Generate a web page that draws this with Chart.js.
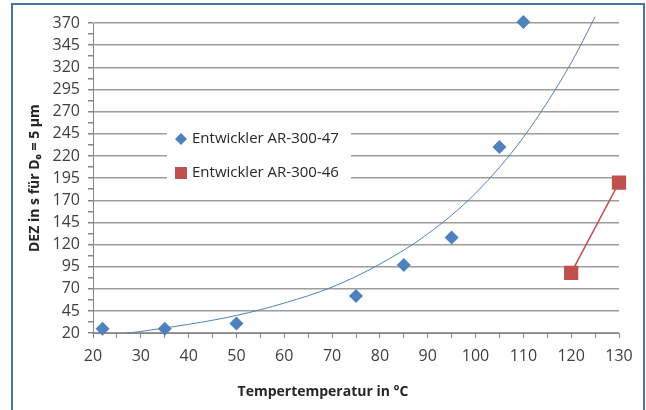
<!DOCTYPE html>
<html>
<head>
<meta charset="utf-8">
<script src="https://cdn.jsdelivr.net/npm/chart.js@4"></script>
<style>
  body { margin: 0; background: #fff; }
  #wrap { position: relative; width: 646px; height: 410px; overflow: hidden; }
  #frame { position: absolute; left: 11px; top: 3px; width: 630px; height: 430px; border: 2px solid #4a72a6; }
  canvas { position: absolute; left: 0; top: 0; }
</style>
</head>
<body>
<div id="wrap">
  <div id="frame"></div>
  <canvas id="chart" width="646" height="410"></canvas>
</div>
<script>
const tempA = [22, 35, 50, 75, 85, 95, 105, 110];
const dezA = [25, 25, 31, 62, 97, 128, 230, 371];
const tempB = [120, 130];
const dezB = [88, 190];
const trendTemp = [27, 30, 40, 50, 60, 70, 80, 90, 100, 110, 120, 125];
const trendDez = [20, 22, 30, 40, 54, 72, 98, 132, 178, 241, 325, 377];

const labelA = "Entwickler AR-300-47";
const labelB = "Entwickler AR-300-46";
const blue = "#4f81bd";
const red = "#c0504d";
const font = "'Open Sans', 'Noto Sans', sans-serif";

const toPoints = (xs, ys) => xs.map((x, i) => ({ x: x, y: ys[i] }));

// Legende innerhalb der Zeichenfläche
const innerLegend = {
  id: "innerLegend",
  afterDraw(chart) {
    const ctx = chart.ctx;
    ctx.save();
    ctx.fillStyle = "#fff";
    ctx.fillRect(167, 122, 184, 66);
    ctx.font = "15px " + font;
    ctx.textBaseline = "middle";
    // Raute
    ctx.fillStyle = blue;
    ctx.beginPath();
    ctx.moveTo(181, 133); ctx.lineTo(187, 139); ctx.lineTo(181, 145); ctx.lineTo(175, 139);
    ctx.closePath();
    ctx.fill();
    // Quadrat
    ctx.fillStyle = red;
    ctx.fillRect(175, 167, 12, 12);
    ctx.fillStyle = "#262626";
    ctx.fillText(labelA, 192, 139);
    ctx.fillText(labelB, 192, 173);
    ctx.restore();
  }
};

new Chart(document.getElementById("chart"), {
  type: "scatter",
  data: {
    datasets: [
      {
        label: "Trend",
        data: toPoints(trendTemp, trendDez),
        showLine: true,
        borderColor: blue,
        borderWidth: 1,
        pointRadius: 0,
        cubicInterpolationMode: "monotone",
        clip: false
      },
      {
        label: labelA,
        data: toPoints(tempA, dezA),
        pointStyle: "rectRot",
        pointRadius: 7,
        backgroundColor: blue,
        borderColor: blue,
        borderWidth: 0,
        clip: false
      },
      {
        label: labelB,
        data: toPoints(tempB, dezB),
        showLine: true,
        pointStyle: "rect",
        pointRadius: 9,
        backgroundColor: red,
        borderColor: red,
        borderWidth: 1.5,
        clip: false
      }
    ]
  },
  options: {
    responsive: false,
    devicePixelRatio: 1,
    animation: false,
    layout: { padding: { top: 23, right: 0, bottom: 0, left: 0 } },
    plugins: {
      legend: { display: false },
      tooltip: { enabled: false },
      title: {
        display: true,
        position: "bottom",
        text: "Tempertemperatur in °C",
        color: "#262626",
        font: { family: font, size: 14, weight: "bold" },
        padding: { top: 0, bottom: 10 }
      }
    },
    scales: {
      x: {
        type: "linear",
        min: 20,
        max: 130,
        afterFit: (s) => { s.height = 50; },
        ticks: {
          stepSize: 5,
          autoSkip: false,
          maxRotation: 0,
          padding: 9,
          color: "#3f3f3f",
          font: { family: font, size: 16 },
          callback: (v) => (v % 10 === 0 ? v : "")
        },
        grid: { drawOnChartArea: false, tickLength: 5, color: "#868686" },
        border: { color: "#868686" }
      },
      y: {
        type: "linear",
        min: 20,
        max: 370,
        afterFit: (s) => { s.width = 93; },
        ticks: {
          stepSize: 12.5,
          autoSkip: false,
          padding: 8,
          color: "#3f3f3f",
          font: { family: font, size: 16 },
          callback: (v) => ((v - 20) % 25 === 0 ? v : "")
        },
        grid: {
          tickLength: 5,
          tickColor: "#868686",
          color: (c) => (c.tick && (c.tick.value - 20) % 25 === 0 ? "#9c9c9c" : "rgba(0,0,0,0)"),
          lineWidth: 1.5
        },
        border: { color: "#868686" },
        title: {
          display: true,
          text: "DEZ in s für D₀ = 5 µm",
          color: "#262626",
          font: { family: font, size: 14, weight: "bold" },
          padding: { top: 27, bottom: 0 }
        }
      },
      // unsichtbare rechte Achse als Abstand zum Rahmen
      yRight: {
        type: "linear",
        position: "right",
        min: 20,
        max: 370,
        afterFit: (s) => { s.width = 27; },
        ticks: { display: false },
        grid: { display: false },
        border: { display: false }
      }
    }
  },
  plugins: [innerLegend]
});
</script>
</body>
</html>
